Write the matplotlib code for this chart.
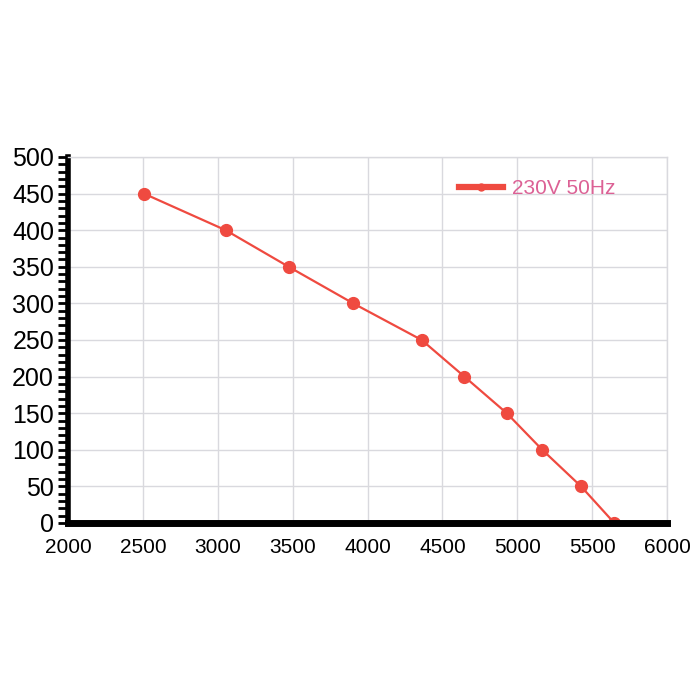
import matplotlib
matplotlib.use("Agg")
import matplotlib.pyplot as plt
from matplotlib.lines import Line2D
from matplotlib.ticker import MultipleLocator

flow = [2507, 3053, 3474, 3905, 4362, 4647, 4930, 5167, 5426, 5648]
pressure = [450, 400, 350, 300, 250, 200, 150, 100, 50, 0]
series_label = "230V 50Hz"
x_ticks = [2000, 2500, 3000, 3500, 4000, 4500, 5000, 5500, 6000]
y_ticks = [0, 50, 100, 150, 200, 250, 300, 350, 400, 450, 500]

line_color = "#ef4a40"
text_pink = "#dc6195"
grid_color = "#d9d9de"

plt.rcParams['font.family'] = ['Liberation Sans', 'DejaVu Sans']

fig = plt.figure(figsize=(7, 7), dpi=100)
ax = fig.add_axes([68/700, 1-523/700, (667-68)/700, (523-157)/700])

ax.plot(flow, pressure, color=line_color, lw=1.6, marker='o', ms=8.5,
        markerfacecolor=line_color, markeredgecolor=line_color, zorder=2)

ax.set_xlim(2000, 6000)
ax.set_ylim(0, 500)
ax.set_xticks(x_ticks)
ax.set_yticks(y_ticks)
ax.yaxis.set_minor_locator(MultipleLocator(10))

ax.grid(True, which='major', color=grid_color, lw=1, zorder=0)
ax.set_axisbelow(True)

for side in ['top', 'right']:
    ax.spines[side].set_color(grid_color)
    ax.spines[side].set_linewidth(1)
ax.spines['left'].set_linewidth(4)
ax.spines['left'].set_color('black')
ax.spines['bottom'].set_linewidth(5)
ax.spines['bottom'].set_color('black')

ax.tick_params(axis='x', length=0, pad=11, labelsize=15, colors='black')
ax.tick_params(axis='y', which='major', length=7, width=2, pad=3, labelsize=18, colors='black')
ax.tick_params(axis='y', which='minor', length=7, width=2, colors='black')

handle = Line2D([], [], color=line_color, lw=4.5, marker='o', ms=5,
                markerfacecolor=line_color, markeredgecolor=line_color)
ax.legend([handle], [series_label], loc='center left',
          bbox_to_anchor=(0.653, 0.913), frameon=False, fontsize=15,
          handlelength=2.1, handletextpad=0.45, borderpad=0, borderaxespad=0,
          labelcolor=text_pink)

fig.savefig("out.png", dpi=100, facecolor='white')
